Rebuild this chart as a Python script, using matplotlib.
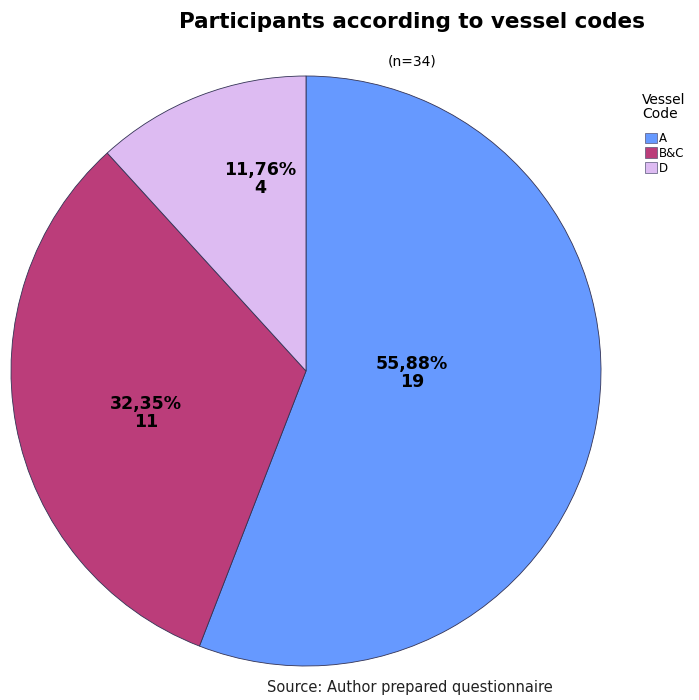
import matplotlib
matplotlib.use("Agg")
import matplotlib.pyplot as plt
from matplotlib.patches import Patch
import numpy as np

categories = ["A", "B&C", "D"]
counts = [19, 11, 4]
colors = ["#6699FF", "#BB3D7A", "#DDBBF2"]

fig = plt.figure(figsize=(6.99, 7.0), dpi=100)
ax = fig.add_axes([11/699, 34/700, 590/699, 590/700])

total = sum(counts)
wedges, texts = ax.pie(counts, colors=colors, startangle=90, counterclock=False,
                       wedgeprops=dict(edgecolor="#333355", linewidth=0.6))
ax.set_xlim(-1, 1); ax.set_ylim(-1, 1)
ax.set_aspect("equal")

# label placement (radius fraction, angle in degrees)
label_pos = [(0.36, -1), (0.56, 194.7), (0.67, 103.4)]
for c, (r, ang) in zip(counts, label_pos):
    pct = f"{100*c/total:.2f}".replace(".", ",") + "%"
    a = np.deg2rad(ang)
    ax.text(r*np.cos(a), r*np.sin(a), f"{pct}\n{c}", ha="center", va="center",
            fontsize=12.5, fontweight="bold", linespacing=1.0, color="black")

fig.text(0.589, 0.968, "Participants according to vessel codes", ha="center", va="center",
         fontsize=15.5, fontweight="bold")
fig.text(0.589, 0.912, "(n=34)", ha="center", va="center", fontsize=10)
fig.text(0.587, 0.018, "Source: Author prepared questionnaire", ha="center", va="center",
         fontsize=10.5, color="#222222")

fig.text(642/699, 1-107/700, "Vessel\nCode", ha="left", va="center", fontsize=10, linespacing=1.0)
handles = [Patch(facecolor=c, edgecolor="#555577", linewidth=0.5) for c in colors]
fig.legend(handles, categories, loc="upper left", bbox_to_anchor=(645/699, 1-132/700),
           frameon=False, fontsize=8.5, handlelength=1.0, handleheight=1.0,
           handletextpad=0.2, labelspacing=0.15, borderaxespad=0, borderpad=0)

fig.savefig("out.png", dpi=100)
